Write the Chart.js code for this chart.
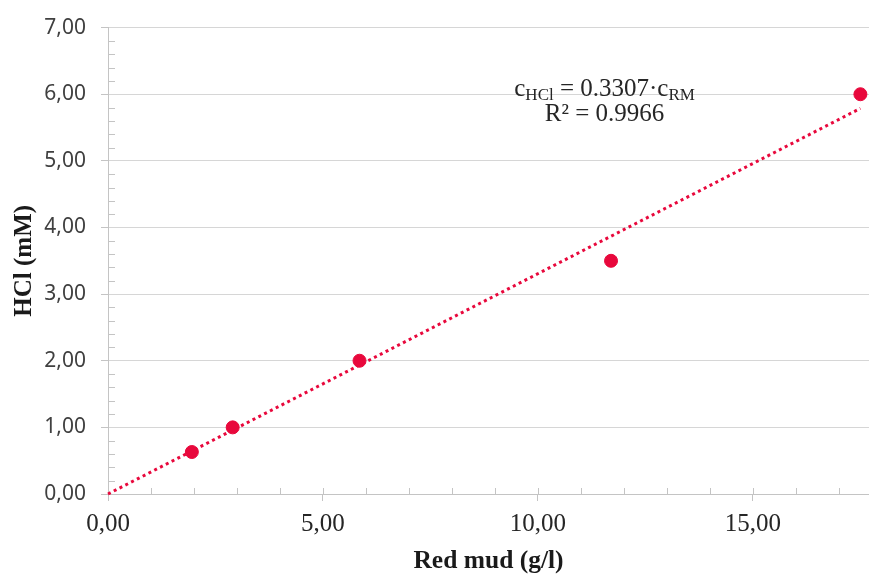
<!DOCTYPE html>
<html>
<head>
<meta charset="utf-8">
<script src="https://cdn.jsdelivr.net/npm/chart.js@4.4.1/dist/chart.umd.min.js"></script>
<style>
  html, body { margin: 0; padding: 0; background: #fff; }
  #wrap { width: 869px; height: 574px; }
</style>
</head>
<body>
<div id="wrap"><canvas id="hclChart" width="869" height="574"></canvas></div>
<script>
// red mud dose (g/l) vs. HCl (mM)
const redMud = [1.95, 2.9, 5.85, 11.7, 17.5];
const hclValues = [0.63, 1.0, 2.0, 3.5, 6.0];

// linear fit through origin
const slope = 0.3307;
const rSquared = 0.9966;
const fitRange = [0, 17.5];

const xTicks = [0, 5, 10, 15];
const yTicks = [0, 1, 2, 3, 4, 5, 6, 7];

const RED = '#e8083c';
const GRID = '#d6d6d6';
const AXIS = '#c4c4c4';
const SERIF = "'Liberation Serif', 'Times New Roman', serif";

const fmt = v => v.toFixed(2).replace('.', ',');

// small inner ticks: x every 1, y every 0.2
const minorTicks = {
    id: 'minorTicks',
    beforeDatasetsDraw(chart) {
        const { ctx, scales: { x, y } } = chart;
        ctx.save();
        ctx.strokeStyle = AXIS;
        ctx.lineWidth = 1;
        ctx.beginPath();
        const y0 = y.getPixelForValue(0);
        for (let v = 1; v <= x.max; v++) {
            const px = Math.round(x.getPixelForValue(v)) + 0.5;
            ctx.moveTo(px, y0 - 6);
            ctx.lineTo(px, y0);
        }
        const x0 = x.getPixelForValue(0);
        for (let i = 1; i < 35; i++) {
            if (i % 5 === 0) continue;
            const py = Math.round(y.getPixelForValue(i / 5)) + 0.5;
            ctx.moveTo(x0, py);
            ctx.lineTo(x0 + 7, py);
        }
        ctx.stroke();
        ctx.restore();
    }
};

// trendline equation label
const fitLabel = {
    id: 'fitLabel',
    afterDatasetsDraw(chart) {
        const { ctx, scales: { x, y } } = chart;
        const cx = x.getPixelForValue(11.55);
        const base1 = y.getPixelForValue(5.97);
        const base2 = base1 + 25;
        const big = '25px ' + SERIF;
        const small = '17px ' + SERIF;
        const parts = [
            { t: 'c', f: big, dy: 0 },
            { t: 'HCl', f: small, dy: 4 },
            { t: ' = ' + slope.toFixed(4) + '\u00b7c', f: big, dy: 0 },
            { t: 'RM', f: small, dy: 4 }
        ];
        ctx.save();
        ctx.fillStyle = '#262626';
        ctx.textBaseline = 'alphabetic';
        ctx.textAlign = 'left';
        let w = 0;
        parts.forEach(p => { ctx.font = p.f; p.w = ctx.measureText(p.t).width; w += p.w; });
        let px = cx - w / 2;
        parts.forEach(p => {
            ctx.font = p.f;
            ctx.fillText(p.t, px, base1 + p.dy);
            px += p.w;
        });
        ctx.font = big;
        ctx.textAlign = 'center';
        ctx.fillText('R\u00b2 = ' + rSquared.toFixed(4), cx, base2);
        ctx.restore();
    }
};

new Chart(document.getElementById('hclChart'), {
    type: 'scatter',
    data: {
        datasets: [
            {
                label: 'HCl',
                data: redMud.map((v, i) => ({ x: v, y: hclValues[i] })),
                backgroundColor: RED,
                borderColor: RED,
                pointRadius: 6.5,
                pointHoverRadius: 6.5,
                order: 1
            },
            {
                label: 'fit',
                type: 'line',
                data: fitRange.map(v => ({ x: v, y: slope * v })),
                borderColor: RED,
                borderWidth: 3,
                borderDash: [3, 3.5],
                pointRadius: 0,
                fill: false,
                order: 2
            }
        ]
    },
    options: {
        responsive: false,
        animation: false,
        clip: false,
        layout: {
            autoPadding: false,
            padding: { top: 24, right: 0, left: 0, bottom: 0 }
        },
        plugins: {
            legend: { display: false },
            tooltip: { enabled: false }
        },
        scales: {
            x: {
                type: 'linear',
                min: 0,
                max: 17.7,
                afterBuildTicks: s => { s.ticks = xTicks.map(v => ({ value: v })); },
                afterFit: s => {
                    s.height = 80;
                    s.paddingRight = 0;
                    s.paddingLeft = 0;
                },
                grid: {
                    drawOnChartArea: false,
                    drawTicks: true,
                    tickLength: 7,
                    tickColor: AXIS
                },
                border: { color: AXIS, width: 1 },
                ticks: {
                    padding: 8,
                    color: '#262626',
                    font: { family: SERIF, size: 25 },
                    callback: v => fmt(v)
                },
                title: {
                    display: true,
                    text: 'Red mud (g/l)',
                    color: '#1a1a1a',
                    padding: { top: 0, bottom: 0 },
                    font: { family: SERIF, size: 25.5, weight: 'bold', lineHeight: 1.0 }
                }
            },
            y: {
                min: 0,
                max: 7,
                afterBuildTicks: s => { s.ticks = yTicks.map(v => ({ value: v })); },
                afterFit: s => { s.width = 108; },
                grid: {
                    color: GRID,
                    lineWidth: 1,
                    drawTicks: true,
                    tickLength: 7,
                    tickColor: AXIS
                },
                border: { color: AXIS, width: 1 },
                ticks: {
                    padding: 15,
                    color: '#404040',
                    font: { family: "'Noto Sans', 'Open Sans', sans-serif", size: 21 },
                    callback: v => fmt(v)
                },
                title: {
                    display: true,
                    text: 'HCl (mM)',
                    color: '#1a1a1a',
                    padding: { top: 10, bottom: 0 },
                    font: { family: SERIF, size: 25, weight: 'bold' }
                }
            }
        }
    },
    plugins: [minorTicks, fitLabel]
});
</script>
</body>
</html>
